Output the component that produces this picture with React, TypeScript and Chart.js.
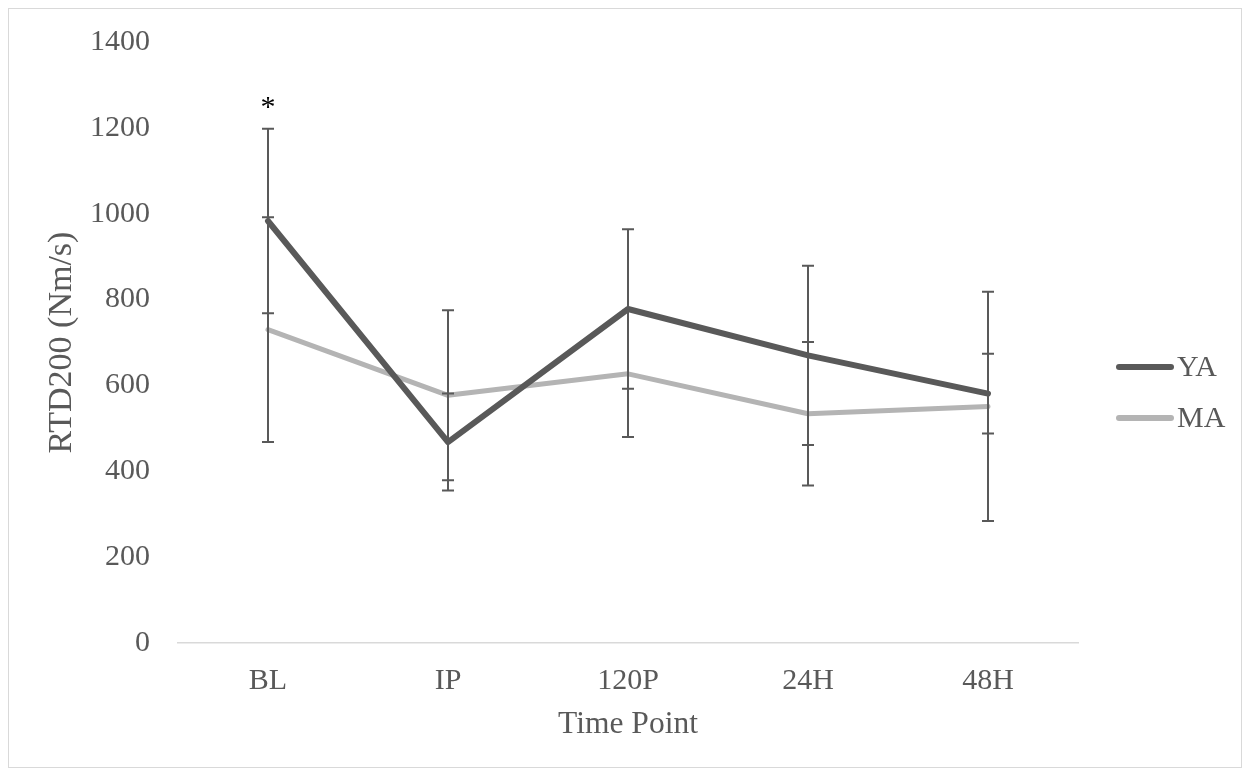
import React, { useEffect, useRef } from 'react';
import { Chart, registerables } from 'chart.js';

Chart.register(...registerables);

const categories = ['BL', 'IP', '120P', '24H', '48H'];
const seriesNames = ['YA', 'MA'];
const yaMeans = [983, 468, 778, 670, 581];
const yaErrors = [215, 113, 186, 209, 93];
const maMeans = [730, 577, 627, 534, 551];
const maErrors = [262, 198, 147, 167, 267];
const yMin = 0;
const yMax = 1400;
const yStep = 200;
const significanceIndex = [0];
const significanceValue = [1228];
const significanceLabel = ['*'];

const FONT = "'Liberation Serif', 'Times New Roman', serif";
const TEXT = '#595959';
const YA_COLOR = '#595959';
const MA_COLOR = '#b4b4b4';

const errorBarPlugin = {
  id: 'errorBars',
  afterDatasetsDraw(chart: any) {
    const { ctx, scales } = chart;
    const xs = scales.x;
    const ys = scales.y;
    const errs = [yaErrors, maErrors];
    const means = [yaMeans, maMeans];
    ctx.save();
    ctx.strokeStyle = '#595959';
    ctx.lineWidth = 2;
    for (let d = 0; d < means.length; d++) {
      for (let i = 0; i < categories.length; i++) {
        const x = xs.getPixelForValue(i);
        const top = ys.getPixelForValue(means[d][i] + errs[d][i]);
        const bot = ys.getPixelForValue(means[d][i] - errs[d][i]);
        ctx.beginPath();
        ctx.moveTo(x, top);
        ctx.lineTo(x, bot);
        ctx.moveTo(x - 6, top);
        ctx.lineTo(x + 6, top);
        ctx.moveTo(x - 6, bot);
        ctx.lineTo(x + 6, bot);
        ctx.stroke();
      }
    }
    ctx.fillStyle = '#000000';
    ctx.font = `30px ${FONT}`;
    ctx.textAlign = 'center';
    ctx.textBaseline = 'alphabetic';
    for (let k = 0; k < significanceIndex.length; k++) {
      const x = xs.getPixelForValue(significanceIndex[k]);
      const y = ys.getPixelForValue(significanceValue[k]);
      ctx.fillText(significanceLabel[k], x, y);
    }
    ctx.restore();
  },
};

const legendPlugin = {
  id: 'customLegend',
  afterDraw(chart: any) {
    const { ctx, chartArea } = chart;
    const x0 = chartArea.right + 39;
    const y0 = 358;
    ctx.save();
    chart.data.datasets.forEach((ds: any, i: number) => {
      const y = y0 + i * 51;
      ctx.strokeStyle = ds.borderColor;
      ctx.lineWidth = 6;
      ctx.lineCap = 'round';
      ctx.beginPath();
      ctx.moveTo(x0 + 2, y);
      ctx.lineTo(x0 + 54, y);
      ctx.stroke();
      ctx.fillStyle = TEXT;
      ctx.font = `30px ${FONT}`;
      ctx.textAlign = 'left';
      ctx.textBaseline = 'middle';
      ctx.fillText(ds.label, x0 + 60, y + 1);
    });
    ctx.restore();
  },
};

export default function App() {
  const ref = useRef<HTMLCanvasElement | null>(null);
  useEffect(() => {
    if (!ref.current) return;
    const chart = new Chart(ref.current, {
      type: 'line',
      data: {
        labels: categories,
        datasets: [
          {
            label: seriesNames[0],
            data: yaMeans,
            borderColor: YA_COLOR,
            backgroundColor: YA_COLOR,
            borderWidth: 6,
            pointRadius: 0,
            borderJoinStyle: 'round',
            borderCapStyle: 'round',
            tension: 0,
          },
          {
            label: seriesNames[1],
            data: maMeans,
            borderColor: MA_COLOR,
            backgroundColor: MA_COLOR,
            borderWidth: 5,
            pointRadius: 0,
            borderJoinStyle: 'round',
            borderCapStyle: 'round',
            tension: 0,
          },
        ],
      },
      options: {
        responsive: false,
        animation: false,
        layout: { padding: { top: 33, right: 163, bottom: 0, left: 0 } },
        plugins: {
          legend: { display: false },
          tooltip: { enabled: false },
        },
        scales: {
          x: {
            offset: true,
            grid: { display: false, drawTicks: false },
            border: { display: true, color: '#d9d9d9', width: 1.5 },
            ticks: { color: TEXT, font: { family: FONT, size: 30 }, padding: 20 },
            title: {
              display: true,
              text: 'Time Point',
              color: TEXT,
              font: { family: FONT, size: 31.5 },
              padding: { top: 0, bottom: 23 },
            },
            afterFit: (s: any) => {
              s.height = 124;
              s.paddingLeft = 0;
              s.paddingRight = 0;
            },
          },
          y: {
            min: yMin,
            max: yMax,
            grid: { display: false, drawTicks: false },
            border: { display: false },
            ticks: {
              stepSize: yStep,
              color: TEXT,
              font: { family: FONT, size: 30 },
              padding: 28,
              callback: (v: any) => String(v),
            },
            title: {
              display: true,
              text: 'RTD200 (Nm/s)',
              color: TEXT,
              font: { family: FONT, size: 34 },
              padding: { top: 33, bottom: 0 },
            },
            afterFit: (s: any) => {
              s.width = 169;
              s.paddingTop = 0;
              s.paddingBottom = 0;
            },
          },
        },
      },
      plugins: [errorBarPlugin, legendPlugin],
    } as any);
    return () => chart.destroy();
  }, []);
  return (
    <div style={{ width: 1232, height: 758, border: '1px solid #d9d9d9', background: '#fff' }}>
      <canvas ref={ref} width={1232} height={758} style={{ display: 'block' }} />
    </div>
  );
}
